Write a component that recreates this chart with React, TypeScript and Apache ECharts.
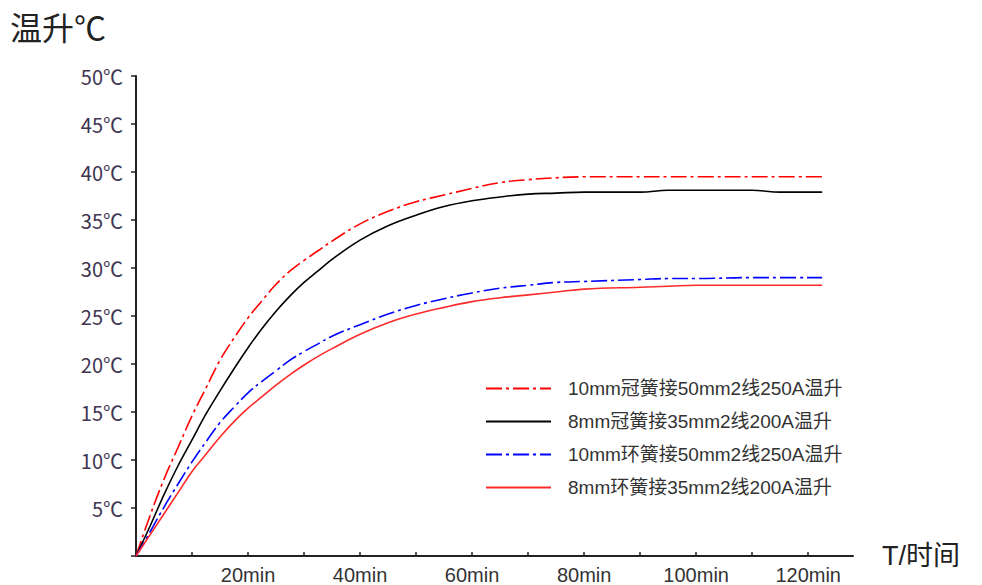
import React, { useEffect, useRef } from "react";
import * as echarts from "echarts";

const times = [0, 2.5, 5, 7.5, 10, 12.5, 15, 17.5, 20, 22.5, 25, 27.5, 30, 32.5, 35, 40, 45, 50, 55, 60, 65, 70, 75, 80, 90, 95, 100, 110, 115, 122.5];

const s1Values = [0, 4.2, 8.0, 11.3, 14.6, 17.5, 20.4, 22.7, 24.8, 26.6, 28.3, 29.7, 30.8, 31.8, 32.8, 34.6, 35.9, 36.9, 37.6, 38.3, 38.9, 39.2, 39.4, 39.5, 39.5, 39.5, 39.5, 39.5, 39.5, 39.5];
const s2Values = [0, 3.1, 6.4, 9.4, 12.1, 14.8, 17.2, 19.5, 21.7, 23.7, 25.5, 27.1, 28.5, 29.7, 30.9, 32.9, 34.4, 35.5, 36.4, 37.0, 37.4, 37.7, 37.8, 37.9, 37.9, 38.1, 38.1, 38.1, 37.9, 37.9];
const s3Values = [0, 2.5, 5.1, 7.5, 9.8, 11.9, 13.9, 15.5, 17.0, 18.2, 19.3, 20.4, 21.3, 22.1, 22.9, 24.1, 25.2, 26.1, 26.8, 27.4, 27.9, 28.2, 28.5, 28.6, 28.8, 28.9, 28.9, 29.0, 29.0, 29.0];
const s4Values = [0, 2.2, 4.4, 6.6, 8.8, 10.6, 12.4, 14.0, 15.4, 16.6, 17.8, 18.9, 19.9, 20.8, 21.6, 23.1, 24.3, 25.2, 25.9, 26.5, 26.9, 27.2, 27.5, 27.8, 28.0, 28.1, 28.2, 28.2, 28.2, 28.2];

const seriesNames = [
  "10mm冠簧接50mm2线250A温升",
  "8mm冠簧接35mm2线200A温升",
  "10mm环簧接50mm2线250A温升",
  "8mm环簧接35mm2线200A温升",
];

const yTitle = "温升℃";
const xTitle = "T/时间";

const FONT = '"Liberation Sans", "Noto Sans CJK SC", sans-serif';
const CJK = '"Noto Sans CJK SC", "Liberation Sans", sans-serif';

export default function App() {
  const ref = useRef<HTMLDivElement>(null);

  useEffect(() => {
    if (!ref.current) return;
    const chart = echarts.init(ref.current, undefined, { renderer: "svg" });
    const toPairs = (vals: number[]) => times.map((t, i) => [t, vals[i]]);
    const dashDot = [16, 4, 3, 4];
    const mk = (name: string, vals: number[], color: string, type: any) => ({
      name,
      type: "line",
      data: toPairs(vals),
      smooth: 0.4,
      symbol: "none",
      lineStyle: { color, width: 1.6, type },
      itemStyle: { color },
    });
    chart.setOption({
      animation: false,
      backgroundColor: "#ffffff",
      grid: { left: 136, top: 76, right: 129, bottom: 29, containLabel: false },
      graphic: [
        {
          type: "text",
          left: 10,
          top: 10,
          style: { text: yTitle, fontSize: 32, fontFamily: CJK, fill: "#222" },
        },
      ],
      legend: {
        orient: "vertical",
        left: 480,
        top: 374,
        itemWidth: 65,
        itemHeight: 14,
        itemGap: 14,
        itemStyle: { opacity: 0 },
        textStyle: {
          fontSize: 19,
          fontFamily: FONT,
          color: "#333",
          lineHeight: 17,
          padding: [0, 0, 0, 12],
        },
        data: seriesNames,
      },
      xAxis: {
        type: "value",
        min: 0,
        max: 128,
        interval: 10,
        name: xTitle,
        nameLocation: "end",
        nameGap: 29,
        nameTextStyle: { fontSize: 27, fontFamily: FONT, color: "#222", verticalAlign: "middle" },
        axisLine: { show: true, lineStyle: { color: "#222", width: 2 } },
        axisTick: { show: true, inside: true, length: 4, lineStyle: { color: "#222", width: 1.5 } },
        splitLine: { show: false },
        axisLabel: {
          margin: 9,
          fontSize: 20,
          fontFamily: FONT,
          color: "#333",
          showMaxLabel: false,
          formatter: (v: number) => (v > 0 && v % 20 === 0 ? `${v}min` : ""),
        },
      },
      yAxis: {
        type: "value",
        min: 0,
        max: 50,
        interval: 5,
        axisLine: { show: true, lineStyle: { color: "#222", width: 2 } },
        axisTick: { show: true, inside: false, length: 5, lineStyle: { color: "#222", width: 1.5 } },
        splitLine: { show: false },
        axisLabel: {
          margin: 13,
          fontSize: 20,
          fontFamily: CJK,
          color: "#3d3550",
          formatter: (v: number) => (v === 0 ? "" : `${v}℃`),
        },
      },
      series: [
        mk(seriesNames[0], s1Values, "#ff0000", dashDot),
        mk(seriesNames[1], s2Values, "#000000", "solid"),
        mk(seriesNames[2], s3Values, "#0000ff", dashDot),
        mk(seriesNames[3], s4Values, "#ff2a2a", "solid"),
      ],
    });
    return () => chart.dispose();
  }, []);

  return (
    <div
      ref={ref}
      style={{ position: "fixed", left: 0, top: 0, width: 982, height: 585, background: "#fff" }}
    />
  );
}
